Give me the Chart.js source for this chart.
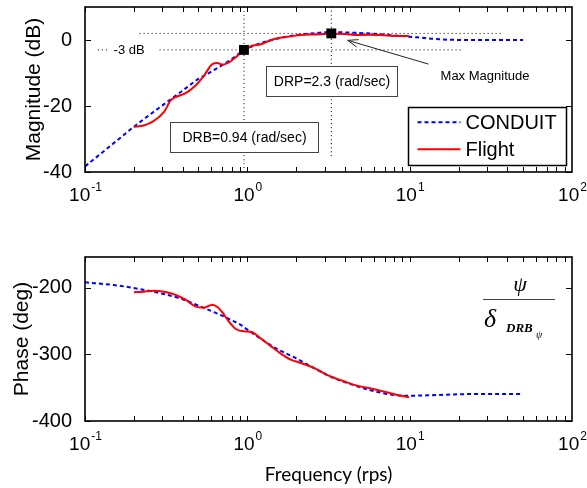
<!DOCTYPE html>
<html><head><meta charset="utf-8">
<script src="https://cdn.jsdelivr.net/npm/chart.js@4"></script>
<style>
html,body{margin:0;padding:0;background:#fff;}
#wrap{position:relative;width:587px;height:488px;overflow:hidden;}
canvas{position:absolute;left:0;}
</style></head><body>
<div id="wrap">
<canvas id="c1" width="587" height="240" style="top:0"></canvas>
<canvas id="c2" width="587" height="248" style="top:240px"></canvas>
</div>
<script>
// ---------------- data ----------------
const seriesNames = ['CONDUIT', 'Flight'];
const conduitFreq  = [0.1,0.15,0.2,0.3,0.4,0.5,0.6,0.7,0.8,0.9,1.0,1.2,1.5,2,2.5,3.3,4.5,6,8,10,13,17,25,35,50];
const conduitMag   = [-38.3,-31.3,-26.3,-19.8,-15.3,-11.8,-9.6,-7.6,-5.8,-3.9,-2.6,-1.0,0.3,1.5,2.0,2.4,2.2,1.9,1.4,1.0,0.5,0.1,0,0,0];
const conduitPhase = [-192,-196,-200.5,-209,-217.5,-227,-235,-242,-249,-255,-263,-276,-291,-306,-319,-334,-346,-355,-361,-362,-361.5,-360.5,-359.5,-359.5,-359.5];
const flightFreq   = [0.2,0.23,0.266,0.307,0.337,0.362,0.417,0.48,0.541,0.609,0.654,0.702,0.77,0.85,0.95,1.05,1.21,1.4,1.6,1.85,2.13,2.6,3.25,4,4.75,5.6,6.6,8.4,9.9];
const flightMag    = [-26.3,-25.9,-24.5,-21.8,-18.3,-17.3,-16.1,-13.8,-10.8,-7.3,-7.0,-7.5,-6.8,-5.2,-3.2,-1.9,-1.3,0.0,0.7,1.1,1.5,1.7,1.9,1.8,1.5,1.6,1.5,1.2,1.2];
const flightPhase  = [-207,-206,-204.5,-206,-208.5,-211,-218,-228.5,-230,-225.5,-229,-237,-251,-262,-265.5,-266,-276,-288,-298.5,-308,-313,-321,-333,-341,-347,-350.5,-354.5,-361,-364.5];
const freqDecades  = [0.1, 1, 10, 100];
const magTicks     = [-40, -20, 0];
const phaseTicks   = [-400, -300, -200];
const markerFreq   = [0.953, 3.29];   // DRB, frequency of max magnitude
const markerMag    = [-3, 2.0];
// guide lines (dotted) [freq, dB] pairs
const guideMaxLine   = [[0.217, 2.0], [37.2, 2.0]];
const guide3dBShort  = [[0.12, -3], [0.138, -3]];
const guide3dBLong   = [[0.288, -3], [20.6, -3]];
const guideDRBvert   = [[0.953, 10], [0.953, -40]];
const guideMaxVert   = [[3.29, 10], [3.29, -35.4]];
// annotation texts
const txtDRP = 'DRP=2.3 (rad/sec)';
const txtDRB = 'DRB=0.94 (rad/sec)';
const txtMax = 'Max Magnitude';
const txt3dB = '-3 dB';

const SANS = "'Liberation Sans', Arial, sans-serif";
const pts = (xs, ys) => xs.map((x, i) => ({x, y: ys[i]}));
const pairs = p => p.map(([x, y]) => ({x, y}));

function guide(p) {
  return {label: '_guide', data: pairs(p), borderColor: '#000', borderWidth: 1, borderDash: [1, 3],
          pointRadius: 0, fill: false, order: 5, tension: 0};
}

// ---------------- plugins ----------------
const framePlugin = {
  id: 'frame',
  afterDraw(chart) {
    const {ctx, chartArea: a, scales} = chart;
    const xs = scales.x, ys = scales.y;
    ctx.save();
    ctx.strokeStyle = '#000';
    ctx.lineWidth = 1;
    ctx.beginPath();
    for (let d = -1; d < 2; d++) {
      for (let m = 1; m < 10; m++) {
        const v = m * Math.pow(10, d);
        const px = Math.round(xs.getPixelForValue(v)) + 0.5;
        ctx.moveTo(px, a.bottom); ctx.lineTo(px, a.bottom - 5);
        ctx.moveTo(px, a.top); ctx.lineTo(px, a.top + 5);
      }
    }
    ys.ticks.forEach(t => {
      const py = Math.round(ys.getPixelForValue(t.value)) + 0.5;
      ctx.moveTo(a.left, py); ctx.lineTo(a.left + 6, py);
      ctx.moveTo(a.right, py); ctx.lineTo(a.right - 6, py);
    });
    ctx.stroke();
    ctx.lineWidth = 1.6;
    ctx.strokeRect(a.left, a.top, a.right - a.left, a.bottom - a.top);
    // decade tick labels 10^n
    ctx.fillStyle = '#000';
    ctx.textBaseline = 'alphabetic';
    ctx.textAlign = 'left';
    freqDecades.forEach(v => {
      const px = xs.getPixelForValue(v);
      const e = String(Math.round(Math.log10(v)));
      ctx.font = '19px ' + SANS;
      const wb = ctx.measureText('10').width;
      ctx.font = '12px ' + SANS;
      const we = ctx.measureText(e).width;
      const x0 = px - (wb + we) / 2;
      ctx.font = '19px ' + SANS;
      ctx.fillText('10', x0, a.bottom + 28.7);
      ctx.font = '12px ' + SANS;
      ctx.fillText(e, x0 + wb + 1, a.bottom + 18.5);
    });
    ctx.restore();
  }
};

const magAnnotations = {
  id: 'magAnn',
  afterDatasetsDraw(chart) {
    const {ctx, chartArea: a, scales: {x, y}} = chart;
    ctx.save();
    ctx.fillStyle = '#000';
    // -3 dB label
    ctx.font = '13px ' + SANS;
    ctx.textBaseline = 'middle';
    ctx.textAlign = 'left';
    ctx.fillText(txt3dB, x.getPixelForValue(0.150), y.getPixelForValue(-3) + 0.5);
    // boxes
    function box(f1, f2, d1, d2, t) {
      const x1 = Math.round(x.getPixelForValue(f1)) + 0.5, x2 = Math.round(x.getPixelForValue(f2)) + 0.5;
      const y1 = Math.round(y.getPixelForValue(d1)) + 0.5, y2 = Math.round(y.getPixelForValue(d2)) + 0.5;
      ctx.fillStyle = '#fff';
      ctx.fillRect(x1, y1, x2 - x1, y2 - y1);
      ctx.strokeStyle = '#444'; ctx.lineWidth = 1;
      ctx.strokeRect(x1, y1, x2 - x1, y2 - y1);
      ctx.fillStyle = '#000';
      ctx.font = '14px ' + SANS;
      ctx.textAlign = 'center'; ctx.textBaseline = 'middle';
      ctx.fillText(t, (x1 + x2) / 2, (y1 + y2) / 2 + 1);
    }
    box(1.296, 8.41, -7.8, -17.1, txtDRP);
    box(0.333, 2.71, -24.8, -34.0, txtDRB);
    // arrow to max magnitude
    const tx = x.getPixelForValue(13.05), ty = y.getPixelForValue(-7.3);
    const hx = x.getPixelForValue(4.15), hy = y.getPixelForValue(-0.1);
    ctx.strokeStyle = '#222'; ctx.lineWidth = 1;
    ctx.beginPath(); ctx.moveTo(tx, ty); ctx.lineTo(hx, hy); ctx.stroke();
    const ang = Math.atan2(hy - ty, hx - tx);
    ctx.beginPath();
    ctx.moveTo(hx - 11 * Math.cos(ang - 0.35), hy - 11 * Math.sin(ang - 0.35));
    ctx.lineTo(hx, hy);
    ctx.lineTo(hx - 11 * Math.cos(ang + 0.35), hy - 11 * Math.sin(ang + 0.35));
    ctx.stroke();
    ctx.fillStyle = '#000';
    ctx.font = '13px ' + SANS;
    ctx.textAlign = 'left'; ctx.textBaseline = 'middle';
    ctx.fillText(txtMax, x.getPixelForValue(15.5), y.getPixelForValue(-11.1));
    ctx.restore();
  }
};

const legendPlugin = {
  id: 'boxLegend',
  afterDatasetsDraw(chart) {
    const {ctx, chartArea: a} = chart;
    const x1 = Math.round(a.right - 164.3) + 0.5, x2 = Math.round(a.right - 6.3) + 0.5;
    const y1 = Math.round(a.bottom - 65.3) + 0.5, y2 = Math.round(a.bottom - 7) + 0.5;
    ctx.save();
    ctx.fillStyle = '#fff'; ctx.fillRect(x1, y1, x2 - x1, y2 - y1);
    ctx.strokeStyle = '#000'; ctx.lineWidth = 1.5; ctx.strokeRect(x1, y1, x2 - x1, y2 - y1);
    const rows = [a.bottom - 49.7, a.bottom - 22.7];
    seriesNames.forEach((name, i) => {
      const ds = chart.data.datasets.find(d => d.label === name);
      const ry = rows[i];
      ctx.strokeStyle = ds.borderColor; ctx.lineWidth = ds.borderWidth;
      ctx.setLineDash(ds.borderDash || []);
      ctx.beginPath(); ctx.moveTo(x1 + 9, ry); ctx.lineTo(x1 + 52, ry); ctx.stroke();
      ctx.setLineDash([]);
      ctx.fillStyle = '#000'; ctx.font = '20px ' + SANS;
      ctx.textAlign = 'left'; ctx.textBaseline = 'middle';
      ctx.fillText(name, x1 + 57, ry + 1.5);
    });
    ctx.restore();
  }
};

const tfPlugin = {
  id: 'tfLabel',
  afterDatasetsDraw(chart) {
    const {ctx, chartArea: a} = chart;
    ctx.save();
    ctx.fillStyle = '#000';
    ctx.textAlign = 'center'; ctx.textBaseline = 'middle';
    ctx.font = "italic 22px 'Liberation Serif', serif";
    ctx.fillText('\u03C8', a.right - 52, a.top + 28);
    ctx.strokeStyle = '#444'; ctx.lineWidth = 1;
    ctx.beginPath(); ctx.moveTo(a.right - 89, a.top + 42.5); ctx.lineTo(a.right - 17, a.top + 42.5); ctx.stroke();
    ctx.textAlign = 'left'; ctx.textBaseline = 'alphabetic';
    ctx.font = "italic 26px 'Liberation Serif', serif";
    ctx.fillText('\u03B4', a.right - 88, a.top + 70);
    ctx.font = "italic bold 13px 'Liberation Serif', serif";
    ctx.fillText('DRB', a.right - 66, a.top + 75);
    ctx.font = "italic 10px 'Liberation Serif', serif";
    ctx.fillText('\u03C8', a.right - 36, a.top + 81);
    ctx.restore();
  }
};

// ---------------- charts ----------------
function makeChart(id, opts) {
  return new Chart(document.getElementById(id), {
    type: 'line',
    data: {datasets: opts.datasets},
    options: {
      responsive: false, animation: false, events: [],
      layout: {padding: {left: 0, right: 15, top: opts.padTop, bottom: 0}, autoPadding: false},
      plugins: {legend: {display: false}, tooltip: {enabled: false}},
      elements: {line: {cubicInterpolationMode: 'monotone'}},
      scales: {
        x: {
          type: 'logarithmic', min: 0.1, max: 100,
          grid: {display: false}, border: {display: false},
          ticks: {display: false},
          title: opts.xTitle ? {display: true, text: opts.xTitle, color: '#000',
                 font: {family: 'Lato', size: 19}, padding: {top: 0, bottom: 1.6}} : {display: false},
          afterFit: s => { s.height = opts.xHeight; s.paddingLeft = 0; s.paddingRight = 0; }
        },
        y: {
          min: opts.yMin, max: opts.yMax,
          grid: {display: false}, border: {display: false},
          ticks: {color: '#000', font: {family: SANS, size: 20}, padding: 5},
          afterBuildTicks: s => { s.ticks = opts.yTicks.map(v => ({value: v})); },
          title: {display: true, text: opts.yTitle, color: '#000',
                  font: {family: SANS, size: 21}, padding: {top: opts.yTitlePad, bottom: 0}},
          afterFit: s => { s.width = 85; s.paddingTop = 0; s.paddingBottom = 0; }
        }
      }
    },
    plugins: opts.plugins
  });
}

makeChart('c1', {
  padTop: 7, xHeight: 68, yMin: -40, yMax: 10, yTicks: magTicks,
  yTitle: 'Magnitude (dB)', yTitlePad: 21.5,
  datasets: [
    {label: seriesNames[0], data: pts(conduitFreq, conduitMag), borderColor: '#0000ff', borderWidth: 2,
     borderDash: [4, 3], pointRadius: 0, order: 3},
    {label: seriesNames[1], data: pts(flightFreq, flightMag), borderColor: '#ff0000', borderWidth: 2,
     pointRadius: 0, order: 2},
    {label: '_markers', data: pts(markerFreq, markerMag), showLine: false, pointStyle: 'rect',
     pointRadius: 7, pointBackgroundColor: '#000', pointBorderColor: '#000', pointBorderWidth: 0, order: 1},
    guide(guideMaxLine), guide(guide3dBShort), guide(guide3dBLong), guide(guideDRBvert), guide(guideMaxVert)
  ],
  plugins: [framePlugin, magAnnotations, legendPlugin]
});

makeChart('c2', {
  padTop: 17, xHeight: 67, yMin: -400, yMax: -154, yTicks: phaseTicks,
  yTitle: 'Phase (deg)', yTitlePad: 9.5, xTitle: 'Frequency (rps)',
  datasets: [
    {label: seriesNames[0], data: pts(conduitFreq, conduitPhase), borderColor: '#0000ff', borderWidth: 2,
     borderDash: [4, 3], pointRadius: 0, order: 3},
    {label: seriesNames[1], data: pts(flightFreq, flightPhase), borderColor: '#ff0000', borderWidth: 2,
     pointRadius: 0, order: 2}
  ],
  plugins: [framePlugin, tfPlugin]
});
</script>
</body></html>
